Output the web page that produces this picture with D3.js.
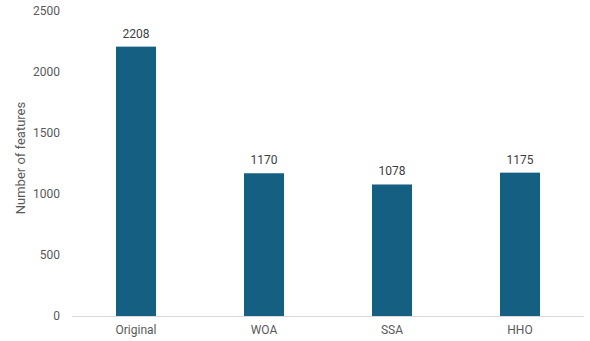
<!DOCTYPE html>
<html><head><meta charset="utf-8">
<script src="https://cdn.jsdelivr.net/npm/d3@7"></script>
<style>body{margin:0;background:#fff}svg{display:block}text{font-family:Roboto,sans-serif}</style>
</head><body>
<script>
const categories = ["Original", "WOA", "SSA", "HHO"];
const values = [2208, 1170, 1078, 1175];
const yTicks = [0, 500, 1000, 1500, 2000, 2500];

const W = 590, H = 341;
const m = {left: 72, right: 6, top: 11, bottom: 25};
const svg = d3.select("body").append("svg").attr("width", W).attr("height", H);

const x = d3.scaleBand().domain(categories).range([m.left, W - m.right]).paddingInner(0.6875).paddingOuter(0.34375);
const y = d3.scaleLinear().domain([0, 2500]).range([H - m.bottom, m.top]);

svg.append("line").attr("x1", m.left).attr("x2", W - m.right)
  .attr("y1", y(0)+0.5).attr("y2", y(0)+0.5).attr("stroke", "#d9d9d9").attr("stroke-width", 1);

const yAxis = d3.axisLeft(y).tickValues(yTicks).tickFormat(d3.format("d")).tickSize(0).tickPadding(12);
const gy = svg.append("g").attr("transform", `translate(${m.left},0)`).call(yAxis);
gy.select(".domain").remove();
gy.selectAll("text").attr("fill", "#595959").style("font-size", "12px").style("font-family", "Roboto,sans-serif");

const xAxis = d3.axisBottom(x).tickSize(0).tickPadding(9);
const gx = svg.append("g").attr("transform", `translate(0,${y(0)})`).call(xAxis);
gx.select(".domain").remove();
gx.selectAll("text").attr("fill", "#595959").style("font-size", "12px").style("font-family", "Roboto,sans-serif");

svg.selectAll("rect.bar").data(values).join("rect").attr("class", "bar")
  .attr("x", (d, i) => x(categories[i])).attr("width", x.bandwidth())
  .attr("y", d => y(d)).attr("height", d => y(0) - y(d)).attr("fill", "#156082");

svg.selectAll("text.val").data(values).join("text").attr("class", "val")
  .attr("x", (d, i) => x(categories[i]) + x.bandwidth()/2).attr("y", d => y(d) - 9)
  .attr("text-anchor", "middle").attr("fill", "#404040").style("font-size", "12px").text(d => d);

svg.append("text").attr("transform", `translate(25,158) rotate(-90)`)
  .attr("text-anchor", "middle").attr("fill", "#595959").style("font-size", "13px").text("Number of features");
</script>
</body></html>
